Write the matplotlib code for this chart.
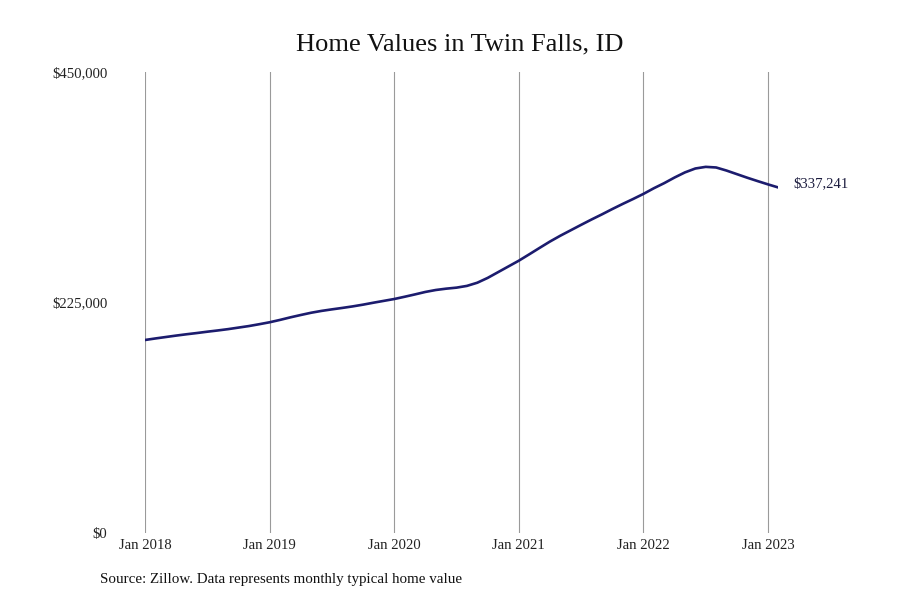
import matplotlib
matplotlib.use("Agg")
import matplotlib.pyplot as plt

plt.rcParams['font.family'] = ['Liberation Serif', 'DejaVu Serif']

# Monthly typical home values, Jan 2018 .. Feb 2023
months = list(range(62))
values = [
    188400, 189900, 191300, 192700, 194000, 195200, 196500, 197700, 199000, 200500, 202000, 203800,
    205700, 208000, 210500, 212800, 215000, 216800, 218300, 219700, 221200, 222900, 224800, 226600,
    228400, 230600, 232900, 235300, 237200, 238500, 239500, 241200, 244300, 249000, 254600, 260200,
    265800, 272000, 278300, 284500, 290200, 295500, 300800, 306000, 311000, 316200, 321200, 326000,
    331000, 336500, 341500, 347000, 352000, 355800, 357400, 356800, 353800, 350300, 346800, 343500,
    340300, 337241,
]
xtick_pos = [0, 12, 24, 36, 48, 60]
xtick_labels = ["Jan 2018", "Jan 2019", "Jan 2020", "Jan 2021", "Jan 2022", "Jan 2023"]
ytick_vals = [0, 225000, 450000]
ytick_labels = ["$0", "$225,000", "$450,000"]
title = "Home Values in Twin Falls, ID"
source = "Source: Zillow. Data represents monthly typical home value"
end_label = "$337,241"

fig = plt.figure(figsize=(9, 6), dpi=100)
ax = fig.add_axes([145/900, 1-533/600, (778.4-145)/900, (533-72)/600])
ax.plot(months, values, color='#1c1c6e', lw=1.9, solid_capstyle='round')
ax.set_xlim(0, 61)
ax.set_ylim(0, 450000)
ax.set_xticks(xtick_pos)
ax.set_xticklabels(xtick_labels, fontsize=10.6, color='#222222')
ax.set_yticks(ytick_vals)
ax.set_yticklabels(ytick_labels, fontsize=10.6, color='#222222')
ax.tick_params(axis='x', length=0, pad=4)
ax.tick_params(axis='y', length=0, pad=27)
ax.grid(axis='x', color='#9a9a9a', lw=0.8)
ax.set_axisbelow(True)
for s in ax.spines.values():
    s.set_visible(False)

ax.annotate(end_label, xy=(months[-1], values[-1]), xytext=(11, 3),
            textcoords='offset points', ha='left', va='center',
            fontsize=10.6, color='#1c1c3e')

fig.text(460/900, 1-44/600, title, ha='center', va='center', fontsize=19, color='#111111')
fig.text(100/900, 1-580/600, source, ha='left', va='center', fontsize=10.8, color='#111111')

fig.savefig("out.png", dpi=100)
